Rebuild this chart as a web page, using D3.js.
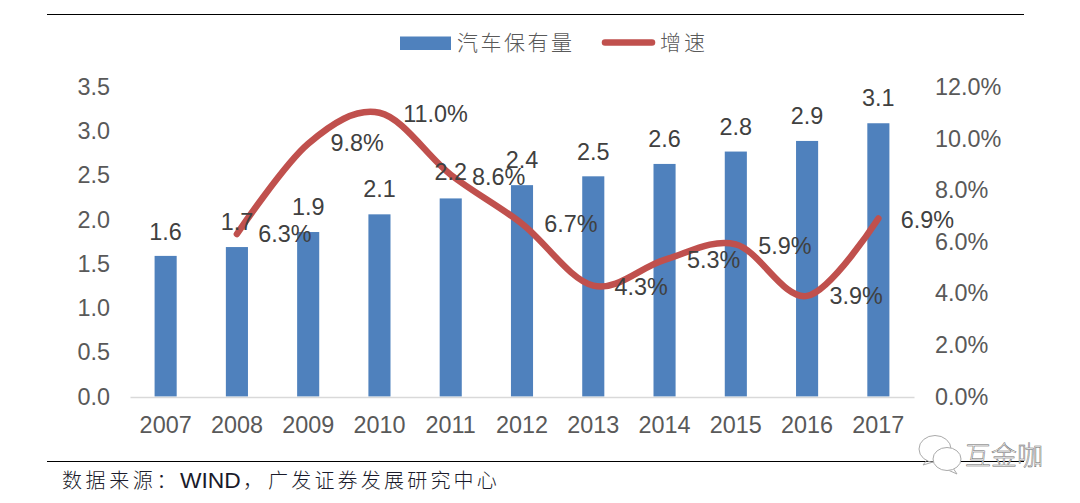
<!DOCTYPE html>
<html><head><meta charset="utf-8">
<script src="https://cdn.jsdelivr.net/npm/d3@7/dist/d3.min.js"></script>
<style>
html,body{margin:0;padding:0;background:#fff}
svg{display:block}
text{font-family:"Liberation Sans",Arial,sans-serif}
</style></head><body>
<svg id="c" width="1080" height="503"></svg>
<script>
const years=[2007,2008,2009,2010,2011,2012,2013,2014,2015,2016,2017];
const stock=[1.59,1.69,1.86,2.06,2.24,2.39,2.49,2.63,2.77,2.89,3.09];
const growthYears=[2008,2009,2010,2011,2012,2013,2014,2015,2016,2017];
const growth=[6.3,9.8,11.0,8.6,6.7,4.3,5.3,5.9,3.9,6.9];
const leftTicks=[0,0.5,1,1.5,2,2.5,3,3.5];
const rightTicks=[0,2,4,6,8,10,12];
const seriesNames=["汽车保有量","增速"];
const sourceParts=["数据来源：","WIND","，","广发证券发展研究中心"];
const watermark="互金咖";
// label nudges relative to the marks, [dx, dy]
const stockLabelOffset=[[0,-24],[0,-25],[0,-25],[0,-25],[0,-26],[0,-25],[0,-24],[0,-25],[0,-25],[0,-25],[0,-25]];
const growthLabelOffset=[[48,0],[49,-1],[56,1],[48,2],[49,0],[48,1],[49,0],[49,2],[49,0],[49,1]];

const svg=d3.select("#c");
const x=d3.scaleBand().domain(years).range([130,914]).paddingInner(0.69).paddingOuter(0.345);
const yL=d3.scaleLinear().domain([0,3.5]).range([396.5,87]);
const yR=d3.scaleLinear().domain([0,12]).range([396.5,87]);
const cx=d=>x(d)+x.bandwidth()/2;
const fs=23.4, tickCol="#595959", lblCol="#404040";

svg.append("line").attr("x1",47).attr("x2",1024).attr("y1",14.5).attr("y2",14.5).attr("stroke","#000").attr("stroke-width",1);
svg.append("line").attr("x1",47).attr("x2",1024).attr("y1",461.5).attr("y2",461.5).attr("stroke","#000").attr("stroke-width",1);

// bars
svg.append("g").selectAll("rect").data(years).join("rect")
 .attr("x",d=>x(d)).attr("width",x.bandwidth())
 .attr("y",(d,i)=>yL(stock[i])).attr("height",(d,i)=>yL(0)-yL(stock[i]))
 .attr("fill","#4F81BD");

// axes
const ax=svg.append("g").attr("transform","translate(0,397)").call(d3.axisBottom(x).tickSize(0).tickPadding(19));
ax.select(".domain").attr("stroke","#D9D9D9").attr("stroke-width",1.5);
ax.selectAll("text").attr("font-size",fs).attr("fill",tickCol).style("font-family",'"Liberation Sans"').attr("dy","0.71em");
const al=svg.append("g").attr("transform","translate(110,0)").call(d3.axisLeft(yL).tickValues(leftTicks).tickFormat(d3.format(".1f")).tickSize(0).tickPadding(0));
al.select(".domain").remove();
al.selectAll("text").attr("font-size",fs).attr("fill",tickCol).style("font-family",'"Liberation Sans"');
const ar=svg.append("g").attr("transform","translate(935,0)").call(d3.axisRight(yR).tickValues(rightTicks).tickFormat(d=>d3.format(".1f")(d)+"%").tickSize(0).tickPadding(0));
ar.select(".domain").remove();
ar.selectAll("text").attr("font-size",fs).attr("fill",tickCol).style("font-family",'"Liberation Sans"');

// line
const line=d3.line().x((d,i)=>cx(growthYears[i])).y(d=>yR(d)).curve(d3.curveCatmullRom.alpha(0));
svg.append("path").datum(growth).attr("d",line).attr("fill","none").attr("stroke","#C0504D").attr("stroke-width",6.5).attr("stroke-linecap","round").attr("stroke-linejoin","round");

// data labels
svg.append("g").selectAll("text").data(years).join("text")
 .attr("x",(d,i)=>cx(d)+stockLabelOffset[i][0]).attr("y",(d,i)=>yL(stock[i])+stockLabelOffset[i][1])
 .attr("text-anchor","middle").attr("dominant-baseline","central").attr("font-size",fs).attr("fill",lblCol)
 .text((d,i)=>d3.format(".1f")(stock[i]));
svg.append("g").selectAll("text").data(growthYears).join("text")
 .attr("x",(d,i)=>cx(d)+growthLabelOffset[i][0]).attr("y",(d,i)=>yR(growth[i])+growthLabelOffset[i][1])
 .attr("text-anchor","middle").attr("dominant-baseline","central").attr("font-size",fs).attr("fill",lblCol)
 .text((d,i)=>d3.format(".1f")(growth[i])+"%");

// legend
const cjk='"Noto Sans CJK SC"';
svg.append("rect").attr("x",400).attr("y",36.5).attr("width",51).attr("height",13.5).attr("fill","#4F81BD");
svg.append("text").attr("x",457).attr("y",50).attr("font-size",21).attr("letter-spacing",2.5).attr("fill",tickCol).style("font-family",cjk).style("font-weight",300).text(seriesNames[0]);
svg.append("line").attr("x1",605).attr("x2",652).attr("y1",42.5).attr("y2",42.5).attr("stroke","#C0504D").attr("stroke-width",6.5).attr("stroke-linecap","round");
svg.append("text").attr("x",660).attr("y",50).attr("font-size",21).attr("letter-spacing",3).attr("fill",tickCol).style("font-family",cjk).style("font-weight",300).text(seriesNames[1]);

// source
const srcCol="#1a1a2a";
const src=[[62,3.6,20,cjk],[180,0,22.8,'"Liberation Sans"'],[243,0,20,cjk],[268,3.2,20,cjk]];
svg.append("g").selectAll("text").data(sourceParts).join("text")
 .attr("x",(d,i)=>src[i][0]).attr("y",488).attr("letter-spacing",(d,i)=>src[i][1]).attr("font-size",(d,i)=>src[i][2])
 .attr("fill",srcCol).style("font-family",(d,i)=>src[i][3]).style("font-weight",300).text(d=>d);

// watermark
const wm=svg.append("g").attr("fill","none").attr("stroke","#aaa").attr("stroke-width",1);
wm.append("path").attr("d","M927 460 L923 465 L933 462");
wm.append("path").attr("d","M953 468 L957 474 L948 470");
wm.append("ellipse").attr("cx",935).attr("cy",449).attr("rx",16).attr("ry",13.5);
wm.append("ellipse").attr("cx",947).attr("cy",459).attr("rx",14).attr("ry",11.5).attr("fill","#fff");
svg.append("text").attr("x",965).attr("y",465).attr("font-size",26).attr("fill","#fff").attr("stroke","#666").attr("stroke-width",0.5).style("font-family",cjk).style("font-weight",300).text(watermark);
</script></body></html>
